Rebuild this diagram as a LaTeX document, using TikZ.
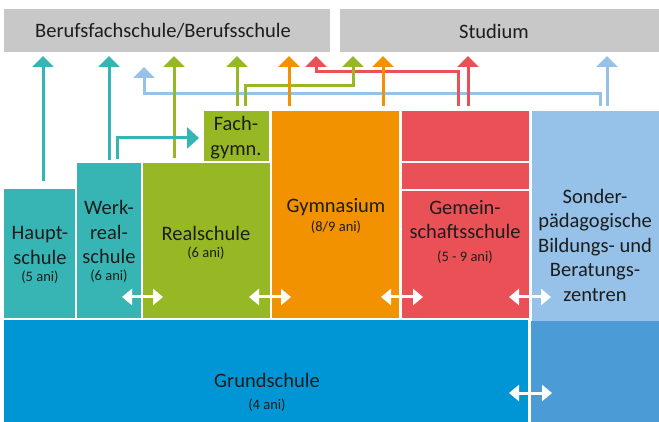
\documentclass[tikz,border=0pt]{standalone}
\usepackage{fontspec}
\setmainfont{Carlito}
\usetikzlibrary{arrows.meta}
\definecolor{cteal}{HTML}{36B5B4}
\definecolor{cgreen}{HTML}{97B825}
\definecolor{corange}{HTML}{F39200}
\definecolor{cred}{HTML}{EA5157}
\definecolor{clblue}{HTML}{96C1E9}
\definecolor{cgrund}{HTML}{0096D6}
\definecolor{cdblue}{HTML}{4A9BD6}
\definecolor{cgray}{HTML}{C8C8C8}
\definecolor{ctext}{HTML}{1D1D1B}
\begin{document}
\begin{tikzpicture}[x=1pt,y=-1pt,
  box/.style={draw=none, anchor=north west, inner sep=0pt, outer sep=0pt},
  lbl/.style={font=\fontsize{20.5}{24.5}\selectfont, align=center, text=ctext, inner sep=0pt},
  ani/.style={font=\fontsize{14.5}{16}\selectfont, text=ctext, inner sep=0pt},
  arr/.style={line width=3pt, -{Triangle[width=21pt,length=11pt]}},
  dbl/.style={white, line width=3pt, {Triangle[width=16pt,length=10pt]}-{Triangle[width=16pt,length=10pt]}}
]
\useasboundingbox[fill=white] (0,0) rectangle (659,422);

% top boxes
\node[box, fill=cgray, minimum width=326pt, minimum height=43pt] (beruf) at (4,9) {};
\node[box, fill=cgray, minimum width=319pt, minimum height=43pt] (stud) at (340,9) {};
\node[lbl] (berufT) at (163,31) {Berufsfachschule/Berufsschule};
\node[lbl] (studT) at (494,31) {Studium};

% columns
\node[box, fill=cteal, minimum width=71pt, minimum height=129pt] (haupt) at (4,189) {};
\node[box, fill=cteal, minimum width=64pt, minimum height=155pt] (werk) at (77,163) {};
\node[box, fill=cgreen, minimum width=127pt, minimum height=155pt] (real) at (143,163) {};
\node[box, fill=cgreen, minimum width=65pt, minimum height=50pt] (fachg) at (204,111) {};
\node[box, fill=corange, minimum width=127pt, minimum height=207pt] (gym) at (272,111) {};
\node[box, fill=cred, minimum width=127pt, minimum height=207pt] (gem) at (402,111) {};
\node[box, fill=clblue, minimum width=127pt, minimum height=210pt] (sonder) at (532,111) {};
\node[box, fill=cgrund, minimum width=524pt, minimum height=102pt] (grund) at (4,320) {};
\node[box, fill=cdblue, minimum width=128pt, minimum height=101pt] (sonderB) at (531,321) {};
\draw[white, line width=1.6pt] (gem.west |- 0,162) -- (gem.east |- 0,162);
\draw[white, line width=1.6pt] (gem.west |- 0,190) -- (gem.east |- 0,190);

% texts
\node[lbl] (hauptT) at (40,245.5) {Haupt-\\schule};
\node[ani] (hauptA) at (40,277) {(5 ani)};
\node[lbl] (werkT) at (109,232) {Werk-\\real-\\schule};
\node[ani] (werkA) at (109,276) {(6 ani)};
\node[lbl] (realT) at (206,233) {Realschule};
\node[ani] (realA) at (206,253) {(6 ani)};
\node[lbl] (fachgT) at (236,137.5) {Fach-\\gymn.};
\node[lbl] (gymT) at (336,207) {Gymnasium};
\node[ani] (gymA) at (336,227) {(8/9 ani)};
\node[lbl] (gemT) at (465,219.5) {Gemein-\\schaftsschule};
\node[ani] (gemA) at (465,257) {(5 - 9 ani)};
\node[lbl] (sonderT) at (595,245) {Sonder-\\pädagogische\\Bildungs- und\\Beratungs-\\zentren};
\node[lbl] (grundT) at (267,380) {Grundschule};
\node[ani] (grundA) at (267,405) {(4 ani)};

% arrow start coordinates
\coordinate (sH) at (43,181);
\coordinate (sW) at (109,160);
\coordinate (sWF) at (117,159);
\coordinate (sR) at (174,158);
\coordinate (sF1) at (237,106);
\coordinate (sF2) at (245,106);
\coordinate (sG1) at (289,106);
\coordinate (sG2) at (383,106);
\coordinate (sC1) at (458,106);
\coordinate (sC2) at (468,106);
\coordinate (sS1) at (600,106);
\coordinate (sS2) at (607,106);

% light blue
\draw[arr, clblue] (sS1) -- (600,94) -- (144,94) -- (144,67);
\draw[arr, clblue, shorten >=4pt] (sS2) -- (sS2 |- stud.south);
% red
\draw[arr, cred, shorten >=4pt] (sC1) -- (458,72) -- (316,72) -- (316 ,52);
\draw[arr, cred, shorten >=4pt] (sC2) -- (sC2 |- stud.south);
% green
\draw[arr, cgreen, shorten >=4pt] (sR) -- (sR |- beruf.south);
\draw[arr, cgreen, shorten >=4pt] (sF1) -- (sF1 |- beruf.south);
\draw[arr, cgreen, shorten >=4pt] (sF2) -- (245,86) -- (353,86) -- (353,52);
% teal
\draw[arr, cteal, shorten >=4pt] (sH) -- (sH |- beruf.south);
\draw[arr, cteal, shorten >=4pt] (sW) -- (sW |- beruf.south);
\draw[arr, cteal, -{Triangle[width=21pt,length=12pt]}, shorten >=5pt] (sWF) -- (117,138) -- (fachg.west |- 0,138);
% orange
\draw[arr, corange, shorten >=4pt] (sG1) -- (sG1 |- beruf.south);
\draw[arr, corange, shorten >=4pt] (sG2) -- (sG2 |- stud.south);

% white double arrows
\coordinate (d1a) at (122,297); \coordinate (d1b) at (163,297);
\coordinate (d2a) at (249,297); \coordinate (d2b) at (291,297);
\coordinate (d3a) at (381,297); \coordinate (d3b) at (423,297);
\coordinate (d4a) at (509,297); \coordinate (d4b) at (551,297);
\coordinate (d5a) at (509,393); \coordinate (d5b) at (552,393);
\draw[dbl] (d1a) -- (d1b);
\draw[dbl] (d2a) -- (d2b);
\draw[dbl] (d3a) -- (d3b);
\draw[dbl] (d4a) -- (d4b);
\draw[dbl] (d5a) -- (d5b);
\end{tikzpicture}
\end{document}
